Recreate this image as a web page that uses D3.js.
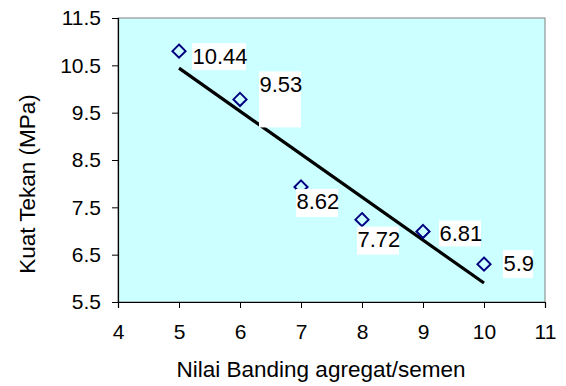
<!DOCTYPE html>
<html>
<head>
<meta charset="utf-8">
<script src="https://cdn.jsdelivr.net/npm/d3@7/dist/d3.min.js"></script>
<style>
  html, body { margin: 0; padding: 0; background: #fff; }
  svg { display: block; }
  text { font-family: Arial, "Liberation Sans", sans-serif; fill: #000; }
</style>
</head>
<body>
<svg id="chart" width="566" height="386"></svg>
<script>
// Agregat/semen ratio vs compressive strength
const ratios = [5, 6, 7, 8, 9, 10];
const strengths = [10.80, 9.78, 7.93, 7.24, 6.99, 6.30];
// Linear trend values shown as labels at each ratio
const trendValues = [10.44, 9.53, 8.62, 7.72, 6.81, 5.9];
const trendLabels = ["10.44", "9.53", "8.62", "7.72", "6.81", "5.9"];
const xTicks = [4, 5, 6, 7, 8, 9, 10, 11];
const yTicks = [5.5, 6.5, 7.5, 8.5, 9.5, 10.5, 11.5];

// Label box placement relative to each point: [dx, dy, width, height]
const labelBoxes = [
  [13, -8, 54, 27],
  [19, -28, 42, 56],
  [-5, 2, 42, 28],
  [-5, 7, 42, 28],
  [16, -11, 42, 26],
  [19, -14, 30, 28]
];

const svg = d3.select("#chart");
const plot = { left: 118, top: 18, right: 545, bottom: 302 };

const x = d3.scaleLinear().domain([4, 11]).range([plot.left, plot.right]);
const y = d3.scaleLinear().domain([5.5, 11.5]).range([plot.bottom, plot.top]);

// plot area
svg.append("rect")
  .attr("x", plot.left).attr("y", plot.top)
  .attr("width", plot.right - plot.left).attr("height", plot.bottom - plot.top)
  .attr("fill", "#CCFFFF").attr("stroke", "#808080").attr("stroke-width", 1);

// axes
const xAxis = d3.axisBottom(x).tickValues(xTicks).tickFormat(d3.format("d")).tickSizeOuter(0).tickSize(6).tickPadding(16);
const yAxis = d3.axisLeft(y).tickValues(yTicks).tickFormat(d3.format(".1f")).tickSizeOuter(0).tickSize(6).tickPadding(11);

const gx = svg.append("g").attr("transform", `translate(0,${plot.bottom})`).call(xAxis);
const gy = svg.append("g").attr("transform", `translate(${plot.left},0)`).call(yAxis);
[gx, gy].forEach(g => {
  g.select(".domain").attr("stroke", "#000").attr("stroke-width", 1.2);
  g.selectAll(".tick line").attr("stroke", "#000").attr("stroke-width", 1);
  g.selectAll(".tick text").style("font-size", "21px").attr("fill", "#000");
});

// trend line
const line = d3.line().x(d => x(d[0])).y(d => y(d[1]));
svg.append("path")
  .datum([[ratios[0], trendValues[0]], [ratios[ratios.length - 1], trendValues[trendValues.length - 1]]])
  .attr("d", line)
  .attr("stroke", "#000").attr("stroke-width", 3.2).attr("fill", "none");

// diamond markers
const diamond = d3.symbol().type(d3.symbolDiamond2).size(110);
svg.selectAll(".pt").data(ratios).join("path")
  .attr("class", "pt")
  .attr("transform", (d, i) => `translate(${x(d)},${y(strengths[i])})`)
  .attr("d", diamond)
  .attr("fill", "none").attr("stroke", "#000080").attr("stroke-width", 2);

// value labels
const lab = svg.selectAll(".lab").data(ratios).join("g")
  .attr("class", "lab")
  .attr("transform", (d, i) => `translate(${x(d) + labelBoxes[i][0]},${y(strengths[i]) + labelBoxes[i][1]})`);
lab.append("rect")
  .attr("width", (d, i) => labelBoxes[i][2])
  .attr("height", (d, i) => labelBoxes[i][3])
  .attr("fill", "#fff");
lab.append("text")
  .attr("x", 0.5).attr("y", 20.5)
  .style("font-size", "22px")
  .text((d, i) => trendLabels[i]);

// axis titles
svg.append("text")
  .attr("x", 321).attr("y", 377)
  .attr("text-anchor", "middle").style("font-size", "22.5px")
  .text("Nilai Banding agregat/semen");
svg.append("text")
  .attr("transform", `translate(35,184) rotate(-90)`)
  .attr("text-anchor", "middle").style("font-size", "22.5px")
  .text("Kuat Tekan (MPa)");
</script>
</body>
</html>
